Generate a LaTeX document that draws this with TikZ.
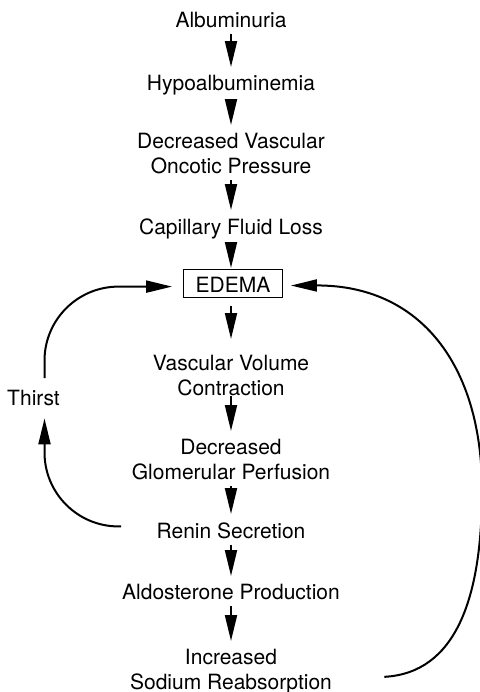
\documentclass[tikz,border=0pt]{standalone}
\usepackage{fontspec}
\setmainfont{TeX Gyre Heros}
\usetikzlibrary{arrows.meta}
\tikzset{%
   txt/.style={anchor=north, inner sep=0pt, align=center, font=\fontsize{10.5}{12.5}\selectfont},
   box/.style={txt, draw, line width=0.6pt, inner xsep=6pt, inner ysep=2pt, text height=9.5pt, text depth=0.5pt},
   arr/.style={-{Triangle[length=13pt,width=6pt]}, line width=1pt, shorten <=3pt, shorten >=4pt},
}

\begin{document}
\begin{tikzpicture}[x=0.5pt, y=-0.5pt]
   \useasboundingbox (0,0) rectangle (480,692);
   \node[txt] (alb) at (231,12) {Albuminuria};
   \node[txt] (hypo) at (231,75) {Hypoalbuminemia};
   \node[txt] (onc) at (231,133) {Decreased Vascular\\Oncotic Pressure};
   \node[txt] (cap) at (231,218) {Capillary Fluid Loss};
   \node[box] (edema) at (233,269) {EDEMA};
   \node[txt] (vol) at (231,355) {Vascular Volume\\Contraction};
   \node[txt] (glom) at (231,439) {Decreased\\Glomerular Perfusion};
   \node[txt] (renin) at (231,522) {Renin Secretion};
   \node[txt] (aldo) at (231,584) {Aldosterone Production};
   \node[txt] (sod) at (231,649) {Increased\\Sodium Reabsorption};
   \node[txt] (thirst) at (33.5,390) {Thirst};
   \draw[arr] (alb) -- (hypo);
   \draw[arr] (hypo) -- (onc);
   \draw[arr] (onc) -- (cap);
   \draw[arr, shorten >=0.5pt] (cap) -- (cap |- edema.north);
   \draw[arr, shorten <=4pt, shorten >=8pt] (vol |- edema.south) -- (vol);
   \draw[arr, shorten <=0pt] (vol) -- (glom);
   \draw[arr] (glom) -- (renin);
   \draw[arr] (renin) -- (aldo);
   \draw[arr] (aldo) -- (sod);
   \draw[arr, rounded corners=37pt, shorten <=6pt, shorten >=5.5pt] ([xshift=5.5pt]thirst.north) |- ([yshift=-1.5pt]edema.west);
   \draw[arr, rounded corners=37pt, shorten <=17.5pt, shorten >=6pt] ([yshift=2pt]renin.west) -| ([xshift=5.5pt]thirst.south);
   \draw[arr, shorten <=0pt] ([xshift=26pt,yshift=-2.5pt]sod.east) .. controls (455,673) and (482,600) .. (482,490)
      .. controls (482,365) and (420,285) .. ([yshift=-1pt]edema.east);
\end{tikzpicture}
\end{document}
